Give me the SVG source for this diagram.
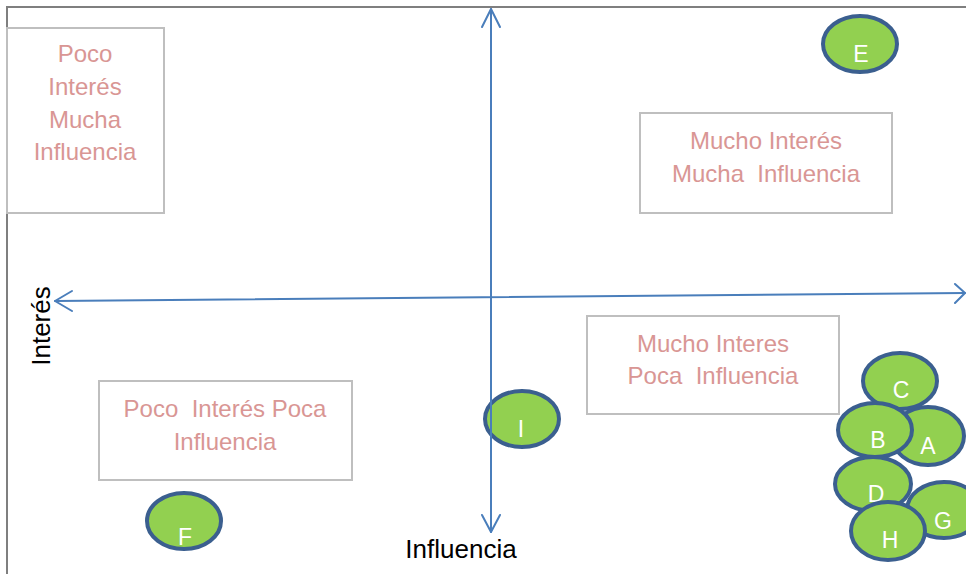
<svg xmlns="http://www.w3.org/2000/svg" width="966" height="574" viewBox="0 0 966 574">
<style>
.frame{fill:none;stroke:#7f7f7f;stroke-width:2}
.box{fill:#ffffff;stroke:#bfbfbf;stroke-width:2}
.qt{font-family:"Liberation Sans",Arial,sans-serif;font-size:24px;fill:#d99694;text-anchor:middle}
.st{fill:#92d050;stroke:#3b5f8f;stroke-width:4}
.lt{font-family:"Liberation Sans",Arial,sans-serif;font-size:23px;fill:#ffffff;text-anchor:middle}
.ax{fill:none;stroke:#4a7ebb;stroke-width:2;stroke-linecap:round;stroke-linejoin:round}
.al{font-family:"Liberation Sans",Arial,sans-serif;font-size:26px;fill:#000000;text-anchor:middle}
</style>
<rect width="966" height="574" fill="#ffffff"/>
<path class="frame" d="M7,574 L7,7 L966,7"/>

<g id="box-poco-interes-mucha-influencia">
<rect class="box" x="7" y="28" width="157" height="185"/>
<text class="qt" x="85" y="62">Poco</text>
<text class="qt" x="85" y="95">Interés</text>
<text class="qt" x="85" y="128">Mucha</text>
<text class="qt" x="85" y="160">Influencia</text>
</g>
<g id="box-mucho-interes-mucha-influencia">
<rect class="box" x="640" y="113" width="252" height="100"/>
<text class="qt" x="766" y="149">Mucho Interés</text>
<text class="qt" x="766" y="182" xml:space="preserve">Mucha  Influencia</text>
</g>
<g id="box-mucho-interes-poca-influencia">
<rect class="box" x="587" y="316" width="252" height="98"/>
<text class="qt" x="713" y="352">Mucho Interes</text>
<text class="qt" x="713" y="384" xml:space="preserve">Poca  Influencia</text>
</g>
<g id="box-poco-interes-poca-influencia">
<rect class="box" x="99" y="381" width="253" height="99"/>
<text class="qt" x="225" y="417" xml:space="preserve">Poco  Interés Poca</text>
<text class="qt" x="225" y="450">Influencia</text>
</g>

<g id="node-E"><ellipse class="st" cx="860" cy="44" rx="37" ry="28"/><text class="lt" x="861" y="62">E</text></g>
<g id="node-I"><ellipse class="st" cx="522" cy="419" rx="37" ry="28"/><text class="lt" x="521" y="437">I</text></g>
<g id="node-F"><ellipse class="st" cx="184" cy="521" rx="37" ry="28"/><text class="lt" x="185" y="545">F</text></g>
<g id="node-A"><ellipse class="st" cx="928" cy="436" rx="36" ry="29"/><text class="lt" x="928" y="454">A</text></g>
<g id="node-C"><ellipse class="st" cx="900" cy="381" rx="37" ry="28"/><text class="lt" x="901" y="398">C</text></g>
<g id="node-B"><ellipse class="st" cx="875" cy="430" rx="37" ry="27"/><text class="lt" x="878" y="448">B</text></g>
<g id="node-G"><ellipse class="st" cx="944" cy="510" rx="37" ry="28"/><text class="lt" x="943" y="529">G</text></g>
<g id="node-D"><ellipse class="st" cx="873" cy="484" rx="38" ry="27"/><text class="lt" x="876" y="502">D</text></g>
<g id="node-H"><ellipse class="st" cx="888" cy="531" rx="37" ry="29"/><text class="lt" x="890" y="548">H</text></g>

<g id="connectors">
<path class="ax" d="M491,9 L491,532"/>
<path class="ax" d="M482,27 L491,9 L500,27"/>
<path class="ax" d="M482,515 L491,532 L500,515"/>
<path class="ax" d="M55,301 L965,293"/>
<path class="ax" d="M72,291 L55,301 L72,311"/>
<path class="ax" d="M955,284 L965,293 L955,303"/>
</g>

<g id="axis-labels">
<text class="al" x="461" y="558">Influencia</text>
<text class="al" transform="translate(50,326) rotate(-90)">Interés</text>
</g>
</svg>
